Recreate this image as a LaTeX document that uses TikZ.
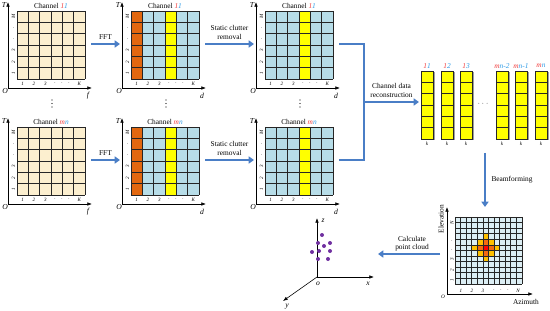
\documentclass[tikz,border=0pt]{standalone}
\usepackage{fontspec}
\setmainfont{Liberation Serif}
\usepackage{xcolor}
\usepackage{tikz}
\usetikzlibrary{arrows.meta, positioning, calc}

\definecolor{cellbeige}{HTML}{FCEFCF}
\definecolor{cellblue}{HTML}{B7DDE8}
\definecolor{cellorange}{HTML}{E2670F}
\definecolor{cellyellow}{HTML}{FFFF00}
\definecolor{heatblue}{HTML}{DCEEF4}
\definecolor{heatred}{HTML}{FF0000}
\definecolor{heatorange}{HTML}{F46A10}
\definecolor{heatyellow}{HTML}{FFC000}
\definecolor{arrowblue}{HTML}{4A7EC6}
\definecolor{chred}{HTML}{F03C3C}
\definecolor{chblue}{HTML}{2E9BE6}
\definecolor{dotpurple}{HTML}{7030A0}

\newcommand{\ch}[2]{\textit{\textcolor{chred}{#1}\textcolor{chblue}{#2}}}

% one range/time panel: origin, column colours, channel, axis letter, name
\newcommand{\drawpanel}[5]{%
  \begin{scope}[shift={#1}]
    \foreach \cc [count=\i from 0] in {#2}
      \fill[\cc] (9+\i*11.333,-77) rectangle ++(11.333,68);
    \foreach \k in {0,...,6} {
      \draw[gridline] (9+\k*11.333,-77) -- ++(0,68);
      \draw[gridline] (9,-9-\k*11.333) -- ++(68,0);
    }
    \draw[axisline] (0,0) -- (0,-86);
    \draw[axisline] (0,0) -- (84,0);
    \node[lbl] (#5-title) at (43,-82) {Channel #3};
    \node[axlbl] (#5-T) at (-4,-83) {T};
    \node[axlbl] (#5-O) at (-3,3) {O};
    \node[axlbl] (#5-x) at (80,8) {#4};
    % ticks
    \foreach \t/\xx in {1/14.7, 2/26, 3/37.3, $\cdot$/47, $\cdot$/54, $\cdot$/61, K/71.3}
      \node[ticklbl] at (\xx,-4.5) {\t};
    \foreach \t/\yy in {1/14.7, 2/26, 3/37.3, $\cdot$/48.7, $\cdot$/60, M/71.3}
      \node[ticklbl, rotate=90] at (5.5,-\yy) {\t};
    \coordinate (#5-W) at (-2,-44);
    \coordinate (#5-E) at (83,-44);
  \end{scope}}

\begin{document}
\begin{tikzpicture}[x=0.03cm, y=-0.03cm,
  gridline/.style={line width=0.8pt, black!85},
  axisline/.style={line width=0.5pt, -{Latex[length=4pt,width=3pt]}},
  flow/.style={line width=2.4pt, arrowblue, -{Triangle[length=4.5pt,width=6pt]}},
  lbl/.style={font=\fontsize{6.3}{7}\selectfont, text=black, align=center, inner sep=0pt},
  axlbl/.style={font=\fontsize{6.5}{7}\selectfont\itshape, text=black, inner sep=0pt},
  ticklbl/.style={font=\fontsize{4.3}{5}\selectfont\itshape, text=black, inner sep=0pt},
]
\useasboundingbox (0,0) rectangle (550,311);

% Panels, top row
\drawpanel{(8,88)}{cellbeige,cellbeige,cellbeige,cellbeige,cellbeige,cellbeige}{\ch{1}{1}}{f}{pA}
\drawpanel{(122,88)}{cellorange,cellblue,cellblue,cellyellow,cellblue,cellblue}{\ch{1}{1}}{d}{pB}
\drawpanel{(256,88)}{cellblue,cellblue,cellblue,cellyellow,cellblue,cellblue}{\ch{1}{1}}{d}{pC}
% Panels, bottom row
\drawpanel{(8,204)}{cellbeige,cellbeige,cellbeige,cellbeige,cellbeige,cellbeige}{\ch{m}{n}}{f}{qA}
\drawpanel{(122,204)}{cellorange,cellblue,cellblue,cellyellow,cellblue,cellblue}{\ch{m}{n}}{d}{qB}
\drawpanel{(256,204)}{cellblue,cellblue,cellblue,cellyellow,cellblue,cellblue}{\ch{m}{n}}{d}{qC}

% vertical dots between rows
\foreach \xx in {52, 166, 300}
  \foreach \yy in {100, 103.5, 107}
    \fill (\xx,\yy) circle (0.55);

% FFT and clutter removal
\draw[flow] (pA-E) -- (pB-W) node[lbl, midway, above=3pt] (fftA) {FFT};
\draw[flow] (qA-E) -- (qB-W) node[lbl, midway, above=3pt] (fftB) {FFT};
\draw[flow] (pB-E) -- (pC-W) node[lbl, midway, above=3pt] (scA) {Static clutter\\removal};
\draw[flow] (qB-E) -- (qC-W) node[lbl, midway, above=3pt] (scB) {Static clutter\\removal};

% Channel data reconstruction
\coordinate (join) at (364,102);
\coordinate (vecin) at (419,102);
\draw[line width=2.4pt, arrowblue] (pC-E) -| (join) |- (qC-E);
\draw[flow] (join) -- (vecin) node[lbl, midway, above=3pt] (cdr) {Channel data\\reconstruction};

% Column vectors
\foreach \xx/\a/\b in {421/1/1, 441/1/2, 460/1/3, 496/m/n-2, 515/m/n-1, 535/m/n} {
  \fill[gray!75] (\xx+1.5,72.5) rectangle (\xx+13.5,140.5);
  \foreach \k in {0,...,5}
    \draw[gridline, fill=cellyellow] (\xx,71+\k*11.333) rectangle ++(12,11.333);
  \node[lbl] at (\xx+6,66) {\ch{\a}{\b}};
  \node[ticklbl] at (\xx+6,144) {k};
}
\node[lbl] (vdots) at (483,104) {$\cdots$};

% Beamforming
\coordinate (bfs) at (485,153);
\coordinate (bfe) at (485,207);
\draw[flow] (bfs) -- (bfe);
\node[lbl] (bf) at (512,180) {Beamforming};

% Heat map
\begin{scope}[shift={(455,217)}]
  \fill[heatblue] (0,0) rectangle (67,67);
  \foreach \c/\r/\cc in {5/5/heatred, 5/4/heatorange, 5/6/heatorange, 4/5/heatorange, 6/5/heatorange,
                          5/3/heatyellow, 5/7/heatyellow, 3/5/heatyellow, 7/5/heatyellow,
                          4/4/heatyellow, 6/4/heatyellow, 4/6/heatyellow, 6/6/heatyellow}
    \fill[\cc] (\c*5.583,\r*5.583) rectangle ++(5.583,5.583);
  \foreach \k in {0,...,12} {
    \draw[gridline, line width=0.6pt] (\k*5.583,0) -- ++(0,67);
    \draw[gridline, line width=0.6pt] (0,\k*5.583) -- ++(67,0);
  }
\end{scope}
\coordinate (hmo) at (447,294);
\draw[axisline] (hmo) -- (447,207);
\draw[axisline] (hmo) -- (533,294);
\node[lbl] (elev) at (441,219) [rotate=90] {Elevation};
\node[lbl] (azim) at (526,302) {Azimuth};
\node[axlbl, font=\fontsize{4.5}{5}\selectfont\itshape] (hmO) at (443,297) {O};
\foreach \t/\xx in {1/461, 2/472, 3/483, $\cdot$/494, $\cdot$/501, $\cdot$/508, N/518}
  \node[ticklbl] at (\xx,290.5) {\t};
\foreach \t/\yy in {1/280, 2/270, 3/259, $\cdot$/250, $\cdot$/241, N/223}
  \node[ticklbl, rotate=90] at (452,\yy) {\t};

% Calculate point cloud
\coordinate (cps) at (440,254);
\coordinate (cpe) at (378,254);
\draw[flow] (cps) -- (cpe);
\node[lbl] (cpc) at (412,244) {Calculate\\point cloud};

% Point cloud axes
\coordinate (pco) at (317,277);
\draw[axisline] (pco) -- (317,218);
\draw[axisline] (pco) -- (374,277);
\draw[axisline] (pco) -- (283,301);
\node[axlbl] (lz) at (323,221) {z};
\node[axlbl] (lx) at (368,284) {x};
\node[axlbl] (ly) at (287,307) {y};
\node[axlbl] (lo) at (318,284) {o};
\foreach \px/\py in {322/235, 318/243, 324/246, 330/243, 312/252, 319/251, 330/251, 318/259, 328/259}
  \fill[dotpurple] (\px,\py) circle (2);
\end{tikzpicture}
\end{document}
